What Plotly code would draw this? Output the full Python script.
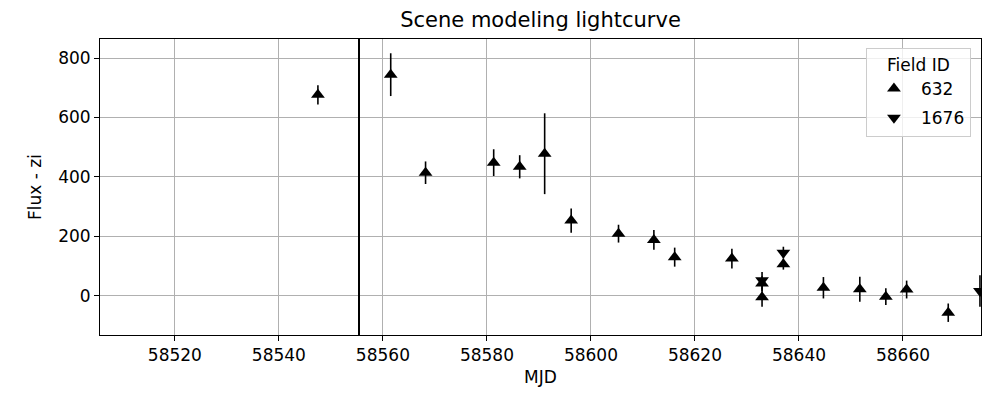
import plotly.graph_objects as go

# ---- data ----
mjd_632 = [58547.5, 58561.5, 58568.2, 58581.3, 58586.3, 58591.1, 58596.2, 58605.3,
           58612.1, 58616.1, 58627.1, 58632.9, 58632.9, 58637.0, 58644.7, 58651.7,
           58656.7, 58660.7, 58668.7]
flux_632 = [676, 744, 414, 448, 434, 478, 253, 209, 188, 130, 125, 41, -5, 106,
            27, 22, -3, 21, -57]
err_632 = [32, 72, 38, 45, 39, 136, 41, 30, 33, 32, 33, 25, 32, 18, 36, 42, 28, 30, 31]

mjd_1676 = [58632.9, 58637.0, 58674.8]
flux_1676 = [52, 145, 16]
err_1676 = [28, 20, 53]

t_ref = 58555.4  # vertical reference line

x_ticks = [58520, 58540, 58560, 58580, 58600, 58620, 58640, 58660]
y_ticks = [0, 200, 400, 600, 800]

FONT = "DejaVu Sans"
FS = 17

fig = go.Figure()

fig.add_trace(go.Scatter(
    x=mjd_632, y=flux_632, mode="markers", name="632", legendgroup="a",
    marker=dict(symbol="triangle-up", size=12, color="black"),
    error_y=dict(type="data", array=err_632, color="black", thickness=1.6, width=0),
))
fig.add_trace(go.Scatter(
    x=mjd_1676, y=flux_1676, mode="markers", name="1676", legendgroup="b",
    marker=dict(symbol="triangle-down", size=12, color="black"),
    error_y=dict(type="data", array=err_1676, color="black", thickness=1.6, width=0),
))

fig.add_vline(x=t_ref, line=dict(color="black", width=2), layer="above")

axis_common = dict(
    showgrid=True, gridcolor="#b0b0b0", gridwidth=1,
    showline=True, linecolor="black", linewidth=1, mirror=True,
    ticks="outside", ticklen=5, tickwidth=1, tickcolor="black",
    zeroline=False, tickfont=dict(family=FONT, size=FS, color="black"),
)

fig.update_xaxes(range=[58505.6, 58675.0], tickvals=x_ticks,
                 ticktext=[str(v) for v in x_ticks],
                 title=dict(text="MJD", font=dict(family=FONT, size=FS, color="black"), standoff=6),
                 **axis_common)
fig.update_yaxes(range=[-132, 864], tickvals=y_ticks,
                 ticktext=[str(v) for v in y_ticks],
                 title=dict(text="Flux - zi", font=dict(family=FONT, size=FS, color="black"), standoff=12),
                 **axis_common)

fig.update_layout(
    width=992, height=395,
    margin=dict(l=100, r=11, t=39, b=60),
    paper_bgcolor="white", plot_bgcolor="white",
    font=dict(family=FONT, size=FS, color="black"),
    title=dict(text="Scene modeling lightcurve", x=0.5, xref="paper",
               y=1 - 20 / 395, yref="container", yanchor="middle", xanchor="center",
               font=dict(family=FONT, size=21, color="black")),
    showlegend=True,
    legend=dict(
        title=dict(text="Field ID", side="top center", font=dict(family=FONT, size=FS)),
        x=0.9886, xanchor="right", y=0.97, yanchor="top",
        bgcolor="rgba(255,255,255,0.8)", bordercolor="#cccccc", borderwidth=1,
        font=dict(family=FONT, size=FS, color="black"),
        traceorder="grouped", tracegroupgap=4, itemwidth=44,
    ),
)

fig.write_html("out.html")
